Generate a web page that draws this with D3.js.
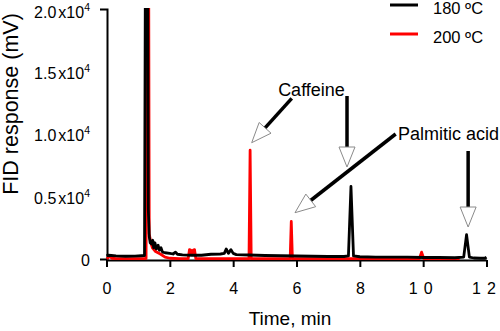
<!DOCTYPE html>
<html>
<head>
<meta charset="utf-8">
<script src="https://cdn.jsdelivr.net/npm/d3@7"></script>
<style>
  html, body { margin: 0; padding: 0; background: #fff; }
  svg { display: block; font-family: "Liberation Sans", Arial, sans-serif; }
</style>
</head>
<body>
<svg id="chart" width="500" height="331"></svg>
<script>
// ---------------- data ----------------
const seriesNames = ["180 ºC", "200 ºC"];
const seriesColors = ["#000000", "#ff0000"];

const times180 = [0, 0.05, 0.15, 0.3, 0.6, 0.9, 1.1, 1.2, 1.23, 1.30, 1.32, 1.35, 1.38, 1.42, 1.46, 1.49, 1.53, 1.57, 1.63, 1.67, 1.72, 1.77, 1.85, 2.0, 2.1, 2.18, 2.24, 2.4, 2.7, 3.0, 3.3, 3.6, 3.72, 3.78, 3.85, 3.93, 4.0, 4.1, 4.5, 5.0, 5.5, 6.0, 6.5, 7.0, 7.5, 7.64, 7.72, 7.80, 8.0, 8.5, 9.0, 9.5, 10.0, 10.5, 11.0, 11.28, 11.37, 11.46, 11.6, 11.8, 11.95, 12.0];
const resp180  = [250, 300, 280, 250, 220, 230, 260, 280, 25000, 25000, 4000, 1800, 1300, 1200, 1500, 900, 1300, 800, 1100, 700, 900, 550, 500, 450, 400, 550, 380, 330, 300, 300, 380, 400, 450, 800, 450, 750, 450, 350, 320, 280, 260, 240, 220, 200, 200, 250, 5800, 250, 180, 150, 150, 150, 120, 120, 100, 150, 1950, 150, 80, 60, 60, 150];

const times200 = [0, 0.05, 0.1, 0.16, 0.3, 0.6, 1.0, 1.25, 1.27, 1.33, 1.35, 1.40, 1.45, 1.55, 1.7, 1.85, 2.0, 2.3, 2.58, 2.62, 2.67, 2.70, 2.73, 2.78, 2.82, 3.0, 3.5, 4.0, 4.50, 4.535, 4.57, 5.0, 5.5, 5.80, 5.835, 5.87, 6.5, 7.5, 8.5, 9.5, 9.88, 9.95, 10.02, 10.5, 11.15];
const resp200  = [30, 100, 250, 60, 30, 30, 30, 40, 25000, 25000, 2000, 1300, 900, 600, 400, 150, 60, 30, 30, 750, 700, 350, 700, 750, 30, 30, 30, 30, 30, 8700, 30, 30, 30, 30, 3000, 30, 30, 30, 30, 30, 30, 550, 30, 30, 30];

const xTicks = [0, 2, 4, 6, 8, 10, 12];
const yTicks = [0, 5000, 10000, 15000, 20000];
const yTickLabels = ["0", "0.5", "1.0", "1.5", "2.0"];

// annotations (data coordinates)
const annoLabels = ["Caffeine", "Palmitic acid"];
const annoLabelT = [5.42, 9.205];
const annoLabelV = [13040, 9520];
const arrowTailT = [5.85, 7.595, 9.132, 11.42];
const arrowTailV = [12856, 13040, 10000, 8640];
const arrowTipT  = [4.585, 7.595, 5.953, 11.42];
const arrowTipV  = [9304, 7360, 3704, 2560];

// ---------------- chart ----------------
const svg = d3.select("#chart");
const x = d3.scaleLinear().domain([0, 12]).range([106.5, 486.5]);
const y = d3.scaleLinear().domain([0, 20000]).range([259, 9]);

// clip
svg.append("defs").append("clipPath").attr("id", "plotclip")
  .append("rect").attr("x", 100).attr("y", 8).attr("width", 400).attr("height", 260);

// axes
const xAxis = d3.axisBottom(x).tickValues(xTicks).tickSizeInner(7).tickSizeOuter(0).tickPadding(16)
  .tickFormat(d => String(d));
const gx = svg.append("g").attr("transform", "translate(0,260)").call(xAxis);
gx.selectAll(".tick text").each(function(d) {
  const t = d3.select(this);
  t.attr("font-size", 16).attr("fill", "#000")
    .attr("font-family", "Liberation Sans, Arial, sans-serif");
  if (d >= 10) {
    const s = String(d);
    t.text(null).attr("x", -3);
    t.append("tspan").text(s[0]);
    t.append("tspan").attr("dx", 6).text(s[1]);
  }
});
gx.selectAll("line").attr("stroke", "#000").attr("stroke-width", 2);
gx.select(".domain").attr("stroke", "#000").attr("stroke-width", 2);

const yAxis = d3.axisLeft(y).tickValues(yTicks).tickSizeInner(0).tickSizeOuter(7).tickPadding(17)
  .tickFormat((d, i) => yTickLabels[i]);
const gy = svg.append("g").attr("transform", "translate(107,0)").call(yAxis);
gy.select(".domain").attr("stroke", "#000").attr("stroke-width", 2);
gy.selectAll(".tick text").each(function(d, i) {
  const t = d3.select(this);
  t.text(null).attr("font-size", 16).attr("fill", "#000")
    .attr("font-family", "Liberation Sans, Arial, sans-serif")
    .attr("dy", d === 20000 ? "0.55em" : "0.42em");
  t.append("tspan").text(yTickLabels[i]);
  if (d !== 0) {
    t.append("tspan").attr("dx", 2).text("x10");
    t.append("tspan").attr("dy", -7).attr("font-size", 10.5).text("4");
  }
});

// axis titles
svg.append("text").attr("x", 290).attr("y", 325).attr("text-anchor", "middle")
  .attr("font-size", 19).text("Time, min");
svg.append("text").attr("transform", "translate(18,104) rotate(-90)").attr("text-anchor", "middle")
  .attr("font-size", 21.5).text("FID response (mV)");

// lines
const line = d3.line().x(d => x(d[0])).y(d => y(d[1]));
const data200 = times200.map((t, i) => [t, resp200[i]]);
const data180 = times180.map((t, i) => [t, resp180[i]]);
const plot = svg.append("g").attr("clip-path", "url(#plotclip)");
plot.append("path").datum(data200).attr("d", line).attr("fill", "none")
  .attr("stroke", seriesColors[1]).attr("stroke-width", 2.8).attr("stroke-linejoin", "round");
plot.append("path").datum(data180).attr("d", line).attr("fill", "none")
  .attr("stroke", seriesColors[0]).attr("stroke-width", 2.8).attr("stroke-linejoin", "round");

// legend
const legend = svg.append("g");
seriesNames.forEach((name, i) => {
  const ly = 5 + i * 29;
  legend.append("line").attr("x1", 390).attr("x2", 418).attr("y1", ly).attr("y2", ly)
    .attr("stroke", seriesColors[i]).attr("stroke-width", 3);
  legend.append("text").attr("x", 433).attr("y", ly + 9).attr("font-size", 16.5).text(name);
});

// annotations
const anno = svg.append("g");
annoLabels.forEach((lab, i) => {
  anno.append("text").attr("x", x(annoLabelT[i])).attr("y", y(annoLabelV[i]))
    .attr("font-size", 18).text(lab);
});
arrowTipT.forEach((tt, i) => {
  const Sx = x(arrowTailT[i]), Sy = y(arrowTailV[i]);
  const Tx = x(tt), Ty = y(arrowTipV[i]);
  const dx = Tx - Sx, dy = Ty - Sy, len = Math.hypot(dx, dy);
  const ux = dx / len, uy = dy / len, nx = -uy, ny = ux;
  const L = 20, W = 8;
  const Bx = Tx - ux * L, By = Ty - uy * L;
  anno.append("line").attr("x1", Sx).attr("y1", Sy).attr("x2", Bx + ux).attr("y2", By + uy)
    .attr("stroke", "#000").attr("stroke-width", 3.5);
  anno.append("polygon")
    .attr("points", [[Tx, Ty], [Bx + nx * W, By + ny * W], [Bx - nx * W, By - ny * W]].map(p => p.join(",")).join(" "))
    .attr("fill", "#fff").attr("stroke", "#8a8a8a").attr("stroke-width", 1);
});
</script>
</body>
</html>
